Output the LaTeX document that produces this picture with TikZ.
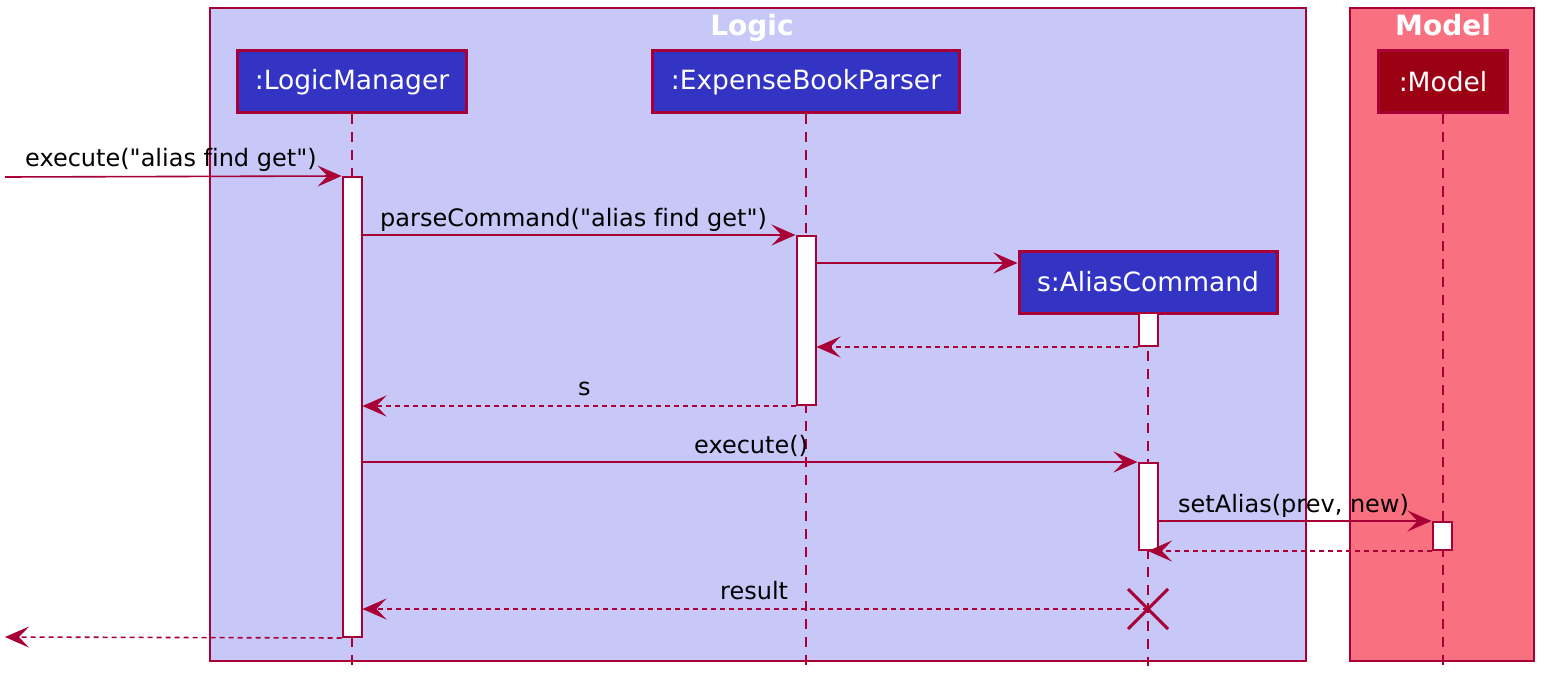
\documentclass[tikz,border=0pt]{standalone}
\usepackage{xcolor}
\usepackage{fontspec}
\setmainfont{DejaVu Sans}[Ligatures={TeXOff,NoCommon}]
\usepackage{tikz}
\usetikzlibrary{arrows.meta,positioning,calc}

\definecolor{umlborder}{HTML}{A80036}
\definecolor{logicbg}{HTML}{C8C8F8}
\definecolor{modelbg}{HTML}{F97181}
\definecolor{partblue}{HTML}{3333C4}
\definecolor{partdark}{HTML}{9C0013}

\begin{document}
\begin{tikzpicture}[
			x = 1pt, y = -1pt,
			every node/.style = {font = \fontsize{24}{28}\selectfont},
			>={Stealth[length=24pt,width=21pt,inset=10pt]},
			frame/.style = {draw = umlborder, line width = 1.5pt},
			title/.style = {anchor = base, text = white, font = \fontsize{28}{32}\selectfont\bfseries},
			part/.style = {draw = umlborder, line width = 3pt, fill = partblue, text = white, minimum height = 62pt, inner sep = 0pt, font = \fontsize{26.5}{30}\selectfont},
			life/.style = {draw = umlborder, line width = 1.6pt, dash pattern = on 10pt off 8pt},
			actbar/.style = {draw = umlborder, line width = 2pt, fill = white, minimum width = 19pt, inner sep = 0pt},
			msg/.style = {->, draw = umlborder, line width = 1.6pt},
			ret/.style = {->, draw = umlborder, line width = 1.6pt, dash pattern = on 5pt off 4pt},
			lbl/.style = {anchor = base west, inner sep = 0pt}]

			% boxes round the participants
			\draw[frame, fill = logicbg] (210,8) rectangle (1306,661);
			\draw[frame, fill = modelbg] (1350,8) rectangle (1534,661);
			\node[title] (logicTitle) at (752,36) {Logic};
			\node[title] (modelTitle) at (1443,36) {Model};

			% participants
			\node[part, minimum width = 229pt] (lm) at (352,82) {:LogicManager};
			\node[part, minimum width = 307pt] (ebp) at (806,82) {:ExpenseBookParser};
			\node[part, minimum width = 129pt, fill = partdark] (mdl) at (1443,82) {:Model};
			\node[part, minimum width = 258pt] (ac) at (1148,282) {s:AliasCommand};

			% lifelines
			\draw[life] (lm.south) -- (lm.south |- 0,666);
			\draw[life] (ebp.south) -- (ebp.south |- 0,666);
			\draw[life] (ac.south) -- (ac.south |- 0,666);
			\draw[life] (mdl.south) -- (mdl.south |- 0,666);

			% activations
			\node[actbar, minimum height = 460pt] (lmAct) at (352,407) {};
			\node[actbar, minimum height = 169pt] (ebpAct) at (806,320.5) {};
			\node[actbar, minimum height = 33pt] (acActA) at (1148,329.5) {};
			\node[actbar, minimum height = 87pt] (acActB) at (1148,506.5) {};
			\node[actbar, minimum height = 28pt] (mdlAct) at (1442,536) {};

			\coordinate (entry) at (5,177);
			\coordinate (exit) at (5,637);
			\coordinate (kill) at (1148,609);

			% messages
			\draw[msg] (entry) -- (lmAct.north west);
			\node[lbl] (lblExecute) at (25,167) {execute("alias find get")};

			\draw[msg] (lmAct.east |- ebpAct.north) -- (ebpAct.north west);
			\node[lbl] (lblParse) at (380,226) {parseCommand("alias find get")};

			\draw[msg] ($(ebpAct.north east)+(0,28)$) coordinate (create) -- (create -| ac.west);
			\draw[ret] (acActA.south west) -- (acActA.south west -| ebpAct.east);

			\draw[ret] (ebpAct.south west) -- (ebpAct.south west -| lmAct.east);
			\node[lbl] (lblS) at (578,395) {s};

			\draw[msg] (lmAct.east |- acActB.north) -- (acActB.north west);
			\node[lbl] (lblRun) at (694,453) {execute()};

			\draw[msg] (acActB.east |- mdlAct.north) -- (mdlAct.north west);
			\node[lbl] (lblSet) at (1178,512) {setAlias(prev, new)};
			\draw[ret] (mdlAct.south west) -- (acActB.south);

			\draw[ret] (kill) -- (kill -| lmAct.east);
			\node[lbl] (lblResult) at (720,599) {result};
			\draw[umlborder, line width = 3pt] ($(kill)+(-20,-20)$) -- ($(kill)+(20,20)$);
			\draw[umlborder, line width = 3pt] ($(kill)+(-20,20)$) -- ($(kill)+(20,-20)$);

			\draw[ret] (lmAct.south west) -- (exit);

			\useasboundingbox (0,0) rectangle (1554,695);
		\end{tikzpicture}
\end{document}
